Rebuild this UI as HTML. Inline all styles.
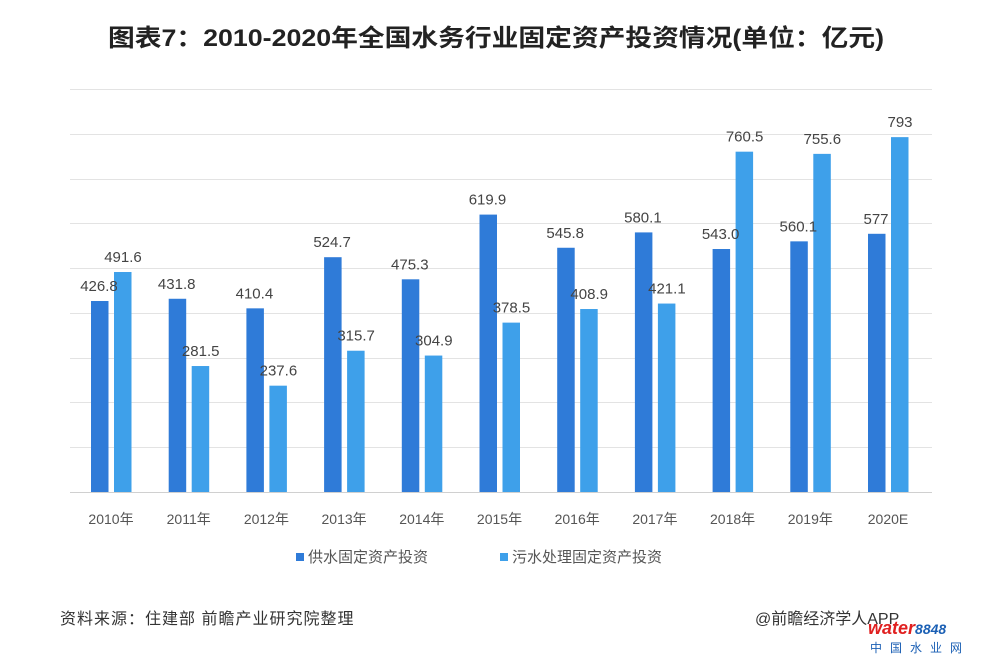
<!DOCTYPE html>
<html><head><meta charset="utf-8"><style>
body{margin:0;background:#fff;}
</style></head><body>
<svg width="992" height="663" xmlns="http://www.w3.org/2000/svg" font-family="Liberation Sans, Noto Sans CJK SC, sans-serif">
<rect width="992" height="663" fill="#fff"/>
<text x="496" y="46" text-anchor="middle" font-size="24" font-weight="bold" fill="#222" textLength="776" lengthAdjust="spacingAndGlyphs">图表7：2010-2020年全国水务行业固定资产投资情况(单位：亿元)</text>
<g stroke="#e3e3e3" stroke-width="1">
<line x1="70" x2="932" y1="89.5" y2="89.5"/><line x1="70" x2="932" y1="134.5" y2="134.5"/>
<line x1="70" x2="932" y1="179.5" y2="179.5"/><line x1="70" x2="932" y1="223.5" y2="223.5"/>
<line x1="70" x2="932" y1="268.5" y2="268.5"/><line x1="70" x2="932" y1="313.5" y2="313.5"/>
<line x1="70" x2="932" y1="358.5" y2="358.5"/><line x1="70" x2="932" y1="402.5" y2="402.5"/>
<line x1="70" x2="932" y1="447.5" y2="447.5"/>
</g>
<line x1="70" x2="932" y1="492.5" y2="492.5" stroke="#d0d0d0"/>
<g id="bars" font-size="15" fill="#444" text-anchor="middle"></g>
<g font-size="14" fill="#555" text-anchor="middle" id="xl"></g>
<rect x="296" y="553" width="8" height="8" fill="#2f7bd8"/>
<text x="308" y="562" font-size="15" fill="#555">供水固定资产投资</text>
<rect x="500" y="553" width="8" height="8" fill="#3ea0ea"/>
<text x="512" y="562" font-size="15" fill="#555">污水处理固定资产投资</text>
<text x="60" y="624" font-size="16" fill="#333" letter-spacing="1">资料来源：住建部 前瞻产业研究院整理</text>
<text x="755" y="624" font-size="16" fill="#333">@前瞻经济学人APP</text>
<text x="868" y="634" font-size="18" font-weight="bold" font-style="italic" fill="#e02020">water<tspan fill="#1a5fb4" font-size="14">8848</tspan></text>
<text x="870" y="652" font-size="12" fill="#1a5fb4" letter-spacing="8">中国水业网</text>
<script>
var d=[[426.8,491.6],[431.8,281.5],[410.4,237.6],[524.7,315.7],[475.3,304.9],[619.9,378.5],[545.8,408.9],[580.1,421.1],[543.0,760.5],[560.1,755.6],[577,793]];
var lab=["2010年","2011年","2012年","2013年","2014年","2015年","2016年","2017年","2018年","2019年","2020E"];
var ns="http://www.w3.org/2000/svg",g=document.getElementById("bars"),xl=document.getElementById("xl");
function el(t,a,p,tx){var e=document.createElementNS(ns,t);for(var k in a)e.setAttribute(k,a[k]);if(tx)e.textContent=tx;p.appendChild(e);}
var k=0.4475;
d.forEach(function(v,i){var x=91+i*77.7;
var h1=v[0]*k,h2=v[1]*k;
el("rect",{x:x,y:492-h1,width:17.5,height:h1,fill:"#2f7bd8"},g);
el("rect",{x:x+23,y:492-h2,width:17.5,height:h2,fill:"#3ea0ea"},g);
var s1=i==10?"577":v[0].toFixed(1),s2=i==10?"793":v[1].toFixed(1);
el("text",{x:x+8,y:492-h1-(v[1]>v[0]&&v[1]*k-h1<25?18:10)},g,s1);
el("text",{x:x+32,y:492-h2-10},g,s2);
el("text",{x:x+20,y:524},xl,lab[i]);
});
</script>
</svg>
</body></html>
